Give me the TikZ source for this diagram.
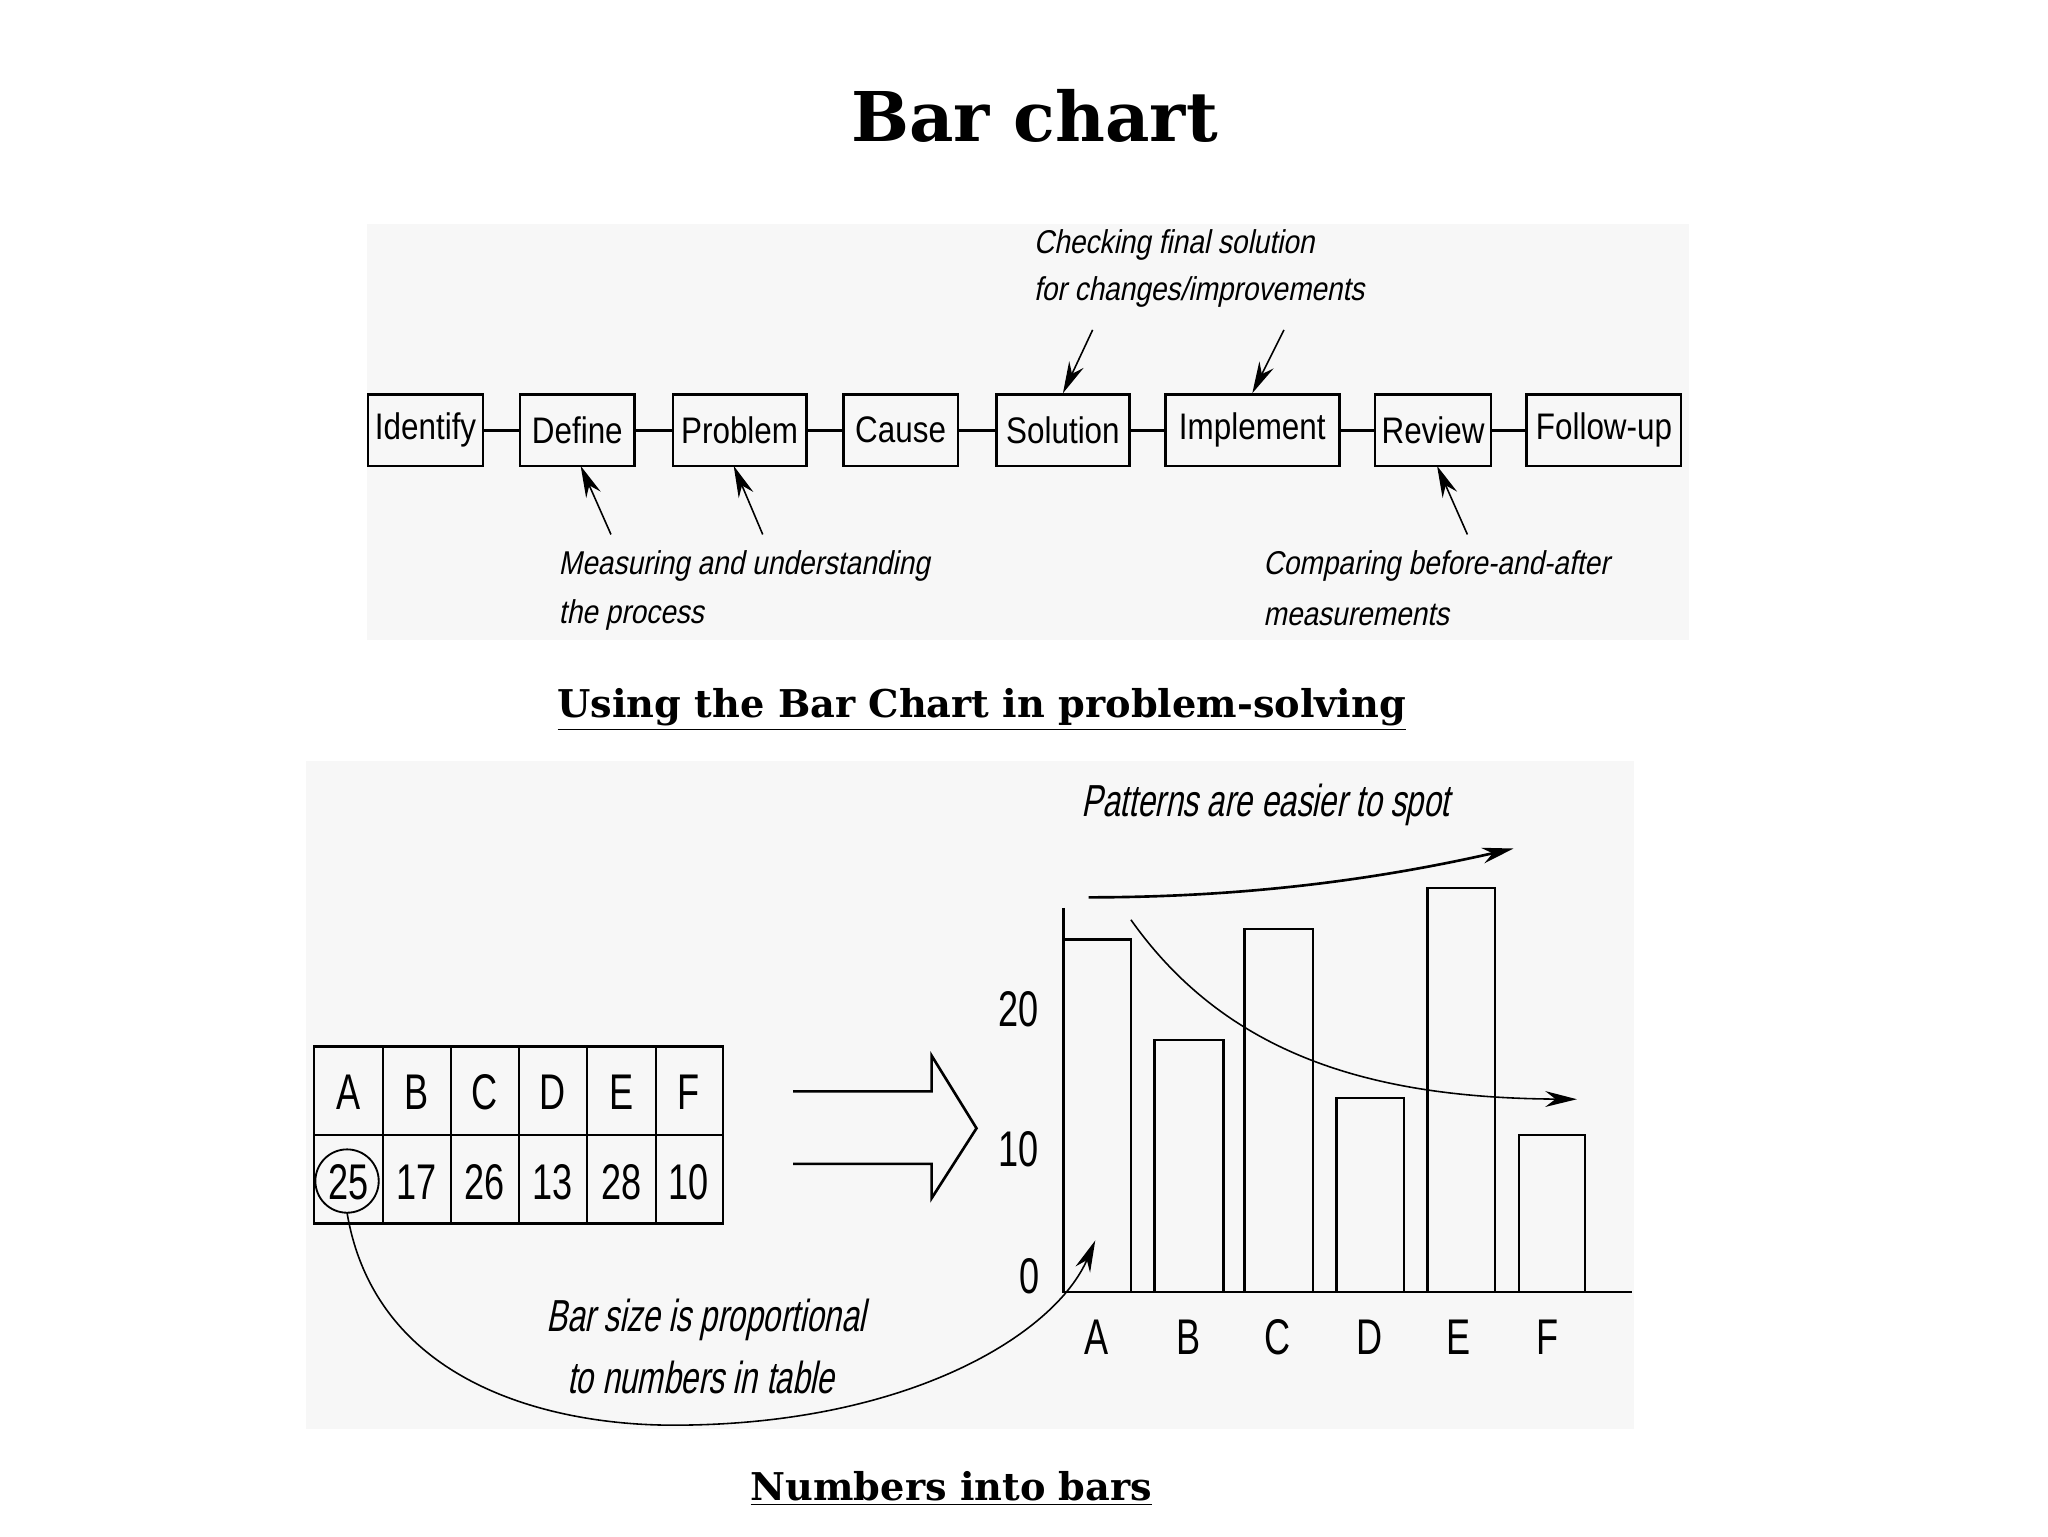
\documentclass[tikz,border=0pt]{standalone}
\usepackage{fontspec}
\usetikzlibrary{arrows.meta}
\setmainfont{DejaVu Serif}
\newfontfamily\nar[FakeStretch=0.85]{Liberation Sans}
\newfontfamily\narr[FakeStretch=0.72]{Liberation Sans}
\newfontfamily\nari[FakeStretch=0.85,FakeSlant=0.2]{Liberation Sans}
\newfontfamily\narri[FakeStretch=0.7,FakeSlant=0.2]{Liberation Sans}
\tikzset{
 stepbox/.style={draw,line width=1pt,minimum height=27pt,inner sep=0pt,font=\nar\fontsize{14}{16}\selectfont},
 ann/.style={font=\nari\fontsize{12.5}{15}\selectfont,anchor=west,inner sep=0pt},
 tip/.style={-{Stealth[length=12pt,width=6pt]},line width=0.6pt},
 cell/.style={font=\narr\fontsize{19}{20}\selectfont},
 bar/.style={draw,line width=1pt},
 sub/.style={font=\bfseries\fontsize{14.5}{17}\selectfont}
}
\begin{document}
\begin{tikzpicture}[x=0.5pt,y=-0.5pt]
\useasboundingbox (0,0) rectangle (1552,1164);
\fill[black!3] (278,170) rectangle (1280,485);
\fill[black!3] (232,577) rectangle (1238,1083);
\node[font=\bfseries\fontsize{26}{30}\selectfont] (title) at (784,88) {Bar chart};
% process boxes
\foreach \n/\l/\r/\t in {id/279/366/Identify,de/394/481/Define,pr/510/611/Problem,ca/639/726/Cause,so/755/856/Solution,im/883/1015/Implement,re/1042/1130/Review,fo/1157/1274/Follow-up}{
  \node[stepbox,minimum width={(\r-\l)*0.5pt}] (\n) at ({(\l+\r)/2},326) {\t};
}
\foreach \a/\b in {id/de,de/pr,pr/ca,ca/so,so/im,im/re,re/fo}{\draw[line width=1pt] (\a) -- (\b);}
\node[ann] (t1) at (783,186) {Checking final solution};
\node[ann] (t2) at (783,221) {for changes/improvements};
\node[ann] (t3) at (423,429) {Measuring and understanding};
\node[ann] (t4) at (423,466) {the process};
\node[ann] (t5) at (957,429) {Comparing before-and-after};
\node[ann] (t6) at (957,466) {measurements};
\coordinate (c1) at (828,250); \coordinate (c2) at (973,250);
\coordinate (c3) at (463,405); \coordinate (c4) at (578,405); \coordinate (c5) at (1112,405);
\draw[tip] (c1) -- (so.north);
\draw[tip] (c2) -- (im.north);
\draw[tip] (c3) -- (440,353);
\draw[tip] (c4) -- (556,353);
\draw[tip] (c5) -- (1089,353);
\node[sub] (s1) at (744,538) {\underline{Using the Bar Chart in problem-solving}};
% table
\draw[line width=1pt] (238,793) rectangle (548,927) (238,860) -- (548,860);
\foreach \x in {290,342,393,445,497}{\draw[line width=0.7pt] (\x,793) -- (\x,927);}
\foreach \l/\v/\x in {A/25/264,B/17/316,C/26/367,D/13/419,E/28/471,F/10/522}{
  \node[cell] (h\l) at (\x,828) {\l};
  \node[cell] (v\l) at (\x,896) {\v};
}
\draw[line width=0.7pt] (263,895) circle (24);
% hollow arrow
\draw[line width=1pt] (601,827) -- (706,827) -- (706,800) -- (740,855) -- (706,908) -- (706,882) -- (601,882);
% chart
\draw[line width=1pt] (806,688) -- (806,979) -- (1237,979);
\foreach \l/\r/\t/\c in {806/857/712/831,875/927/788/901,943/995/704/968,1013/1064/832/1038,1082/1133/673/1105,1151/1201/860/1173}{
  \draw[bar] (\l,979) -- (\l,\t) -- (\r,\t) -- (\r,979);
}
\foreach \l/\c in {A/831,B/901,C/968,D/1038,E/1105,F/1173}{\node[cell] (x\l) at (\c,1013) {\l};}
\node[cell] (y20) at (772,765) {20};
\node[cell] (y10) at (772,871) {10};
\node[cell] (y0) at (780,967) {0};
\node[font=\narri\fontsize{17}{20}\selectfont] (pat) at (959,610) {Patterns are easier to spot};
\coordinate (u0) at (825,680); \coordinate (u1) at (1147,643);
\draw[tip,line width=1pt] (u0) .. controls (950,680) and (1050,665) .. (u1);
\coordinate (d0) at (857,697); \coordinate (d1) at (1195,833);
\draw[tip] (d0) .. controls (930,800) and (1040,832) .. (d1);
\node[font=\narri\fontsize{17}{20}\selectfont] (b1) at (535,1000) {Bar size is proportional};
\node[font=\narri\fontsize{17}{20}\selectfont] (b2) at (531,1044) {to numbers in table};
\coordinate (g0) at (263,919); \coordinate (g1) at (830,940);
\draw[tip] (g0) .. controls (285,1050) and (420,1080) .. (510,1080) .. controls (690,1080) and (800,1010) .. (g1);
\node[sub] (s2) at (721,1128) {\underline{Numbers into bars}};
\end{tikzpicture}
\end{document}
